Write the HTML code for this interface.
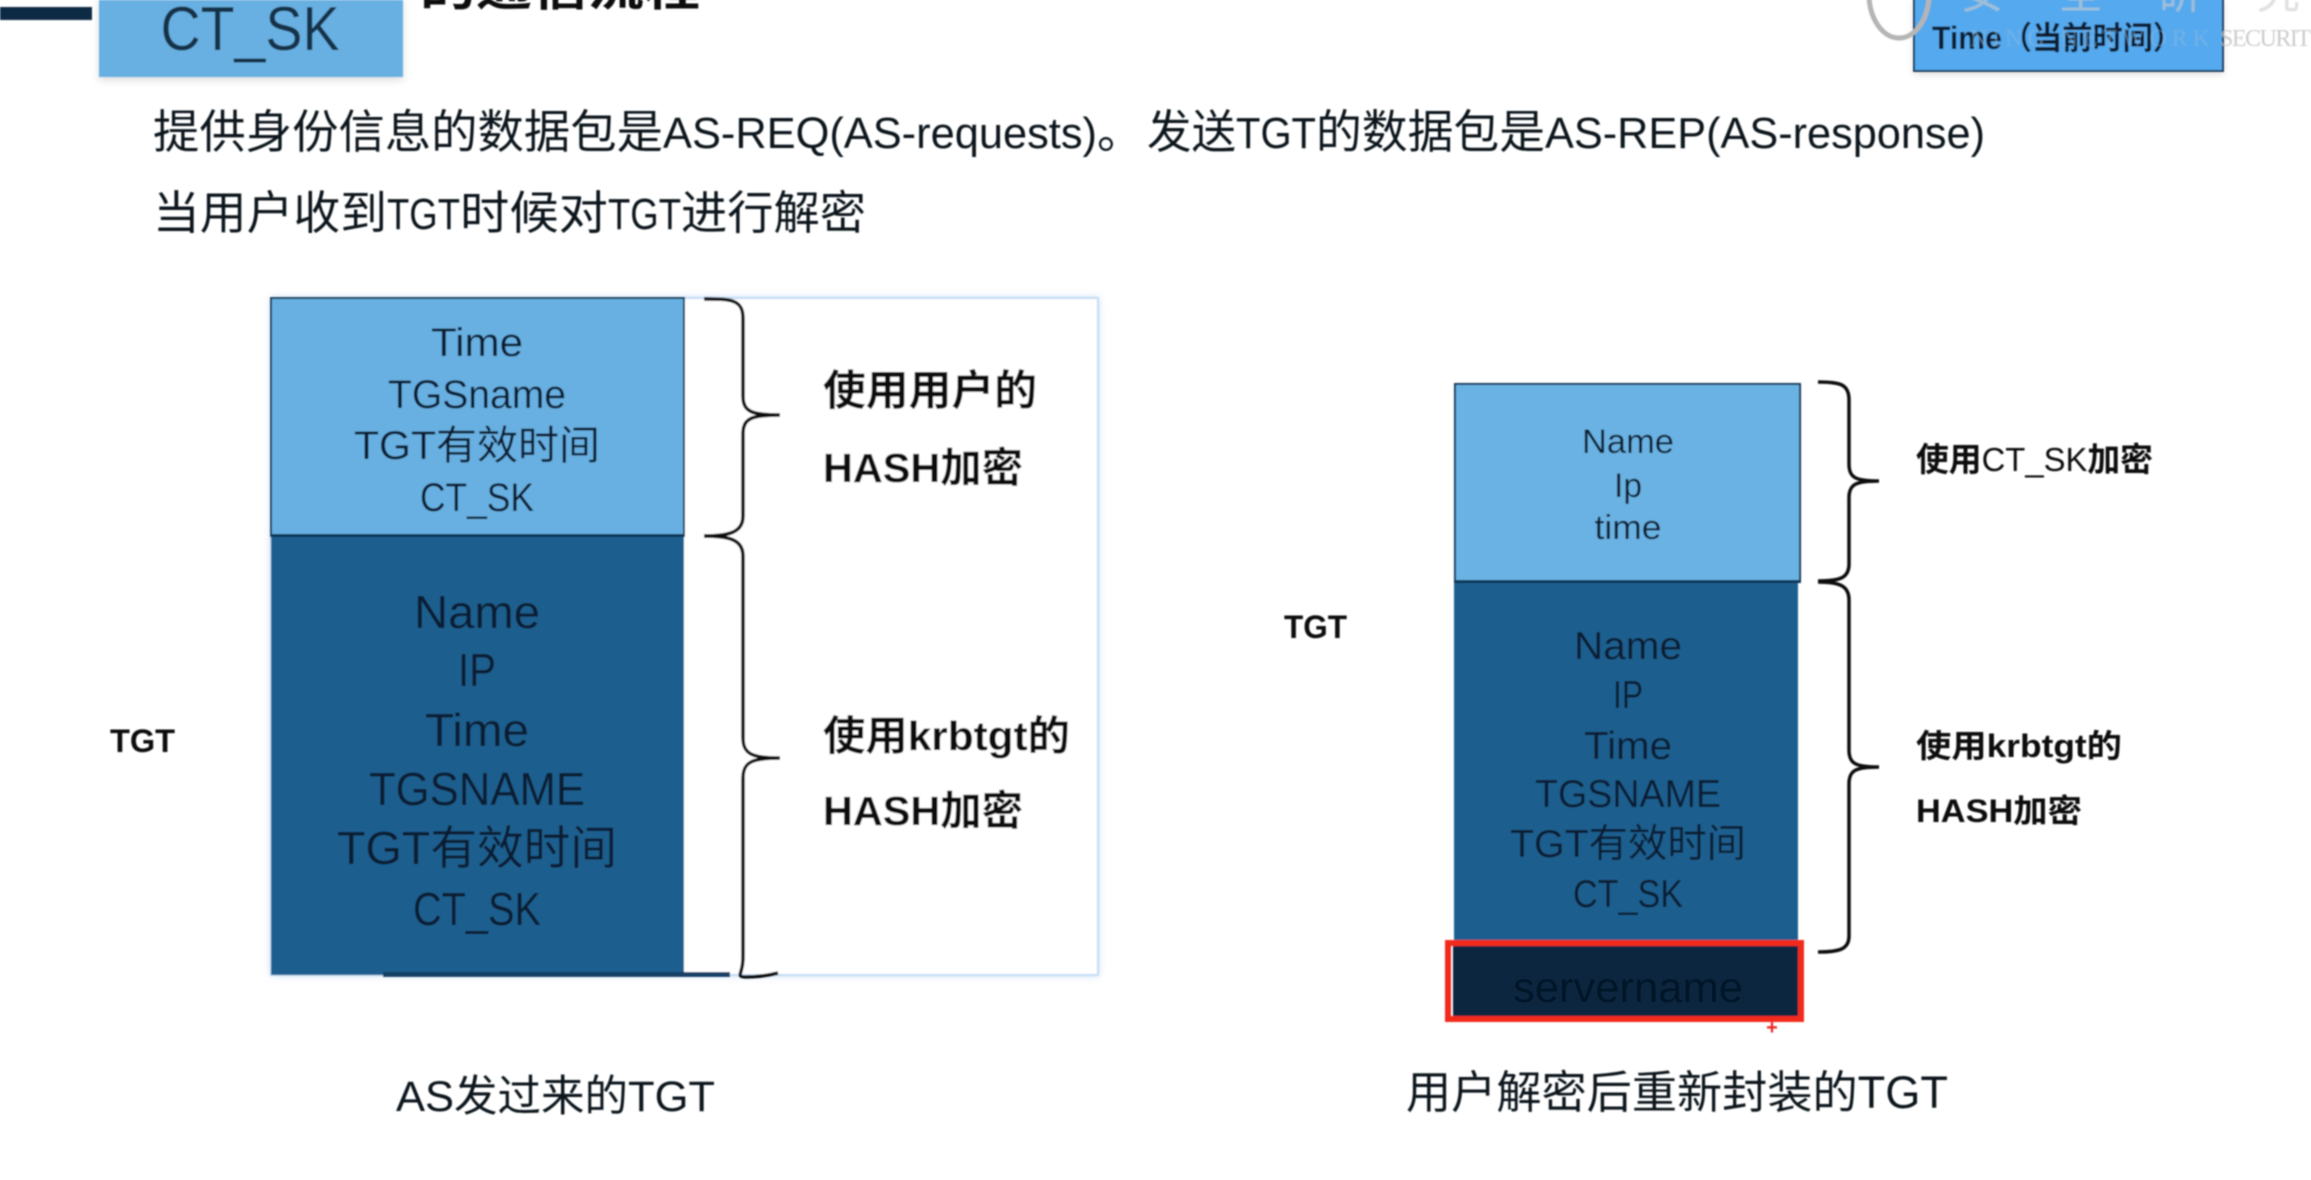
<!DOCTYPE html>
<html lang="zh"><head><meta charset="utf-8"><title>TGT</title>
<style>
html,body{margin:0;padding:0;background:#fff;width:2311px;height:1180px;overflow:hidden}
svg{display:block}
text{font-family:"Liberation Sans","Noto Sans CJK SC",sans-serif;fill:#10161e}
.c{text-anchor:middle}
.b{font-weight:700;fill:#111}
.d{fill:#081c30}
.br{fill:none;stroke:#111;stroke-width:3.5}
</style></head><body>
<svg width="2311" height="1180" viewBox="0 0 2311 1180" xmlns="http://www.w3.org/2000/svg">
<defs>
<filter id="s" x="-5%" y="-5%" width="110%" height="110%"><feGaussianBlur stdDeviation="0.7"/></filter>
<filter id="sh" x="-10%" y="-10%" width="120%" height="120%"><feGaussianBlur stdDeviation="4"/></filter>
</defs>
<g filter="url(#s)">
<!-- top strip -->
<rect x="0" y="7" width="92" height="13" fill="#0c2c44"/>
<rect x="99" y="0" width="304" height="80" fill="#999" opacity=".35" filter="url(#sh)"/>
<rect x="99" y="0" width="304" height="77" fill="#68b0e2"/>
<text class="c" x="250" y="50" font-size="62" textLength="179" lengthAdjust="spacingAndGlyphs" style="fill:#17324a">CT_SK</text>
<text x="420" y="5" font-size="48" font-weight="700" textLength="280" lengthAdjust="spacingAndGlyphs" style="fill:#111">的通信流程</text>

<!-- watermark + top-right box -->
<rect x="1914" y="2" width="309" height="72" fill="#999" opacity=".35" filter="url(#sh)"/>
<rect x="1914" y="-3" width="309" height="74" fill="#55a9ee" stroke="#173a5c" stroke-width="2"/>
<ellipse cx="1899" cy="-6" rx="30" ry="44" fill="none" stroke="#b5b5b5" stroke-width="5"/>
<text x="1932" y="49" font-size="32" font-weight="700" textLength="251" lengthAdjust="spacingAndGlyphs" style="fill:#0b1c30">Time（当前时间）</text>
<text x="2220" y="46" font-size="24" textLength="91" style="font-family:'Liberation Serif',serif;fill:#bbb" opacity=".75">SECURIT</text>
<text x="1970" y="46" font-size="24" textLength="240" style="font-family:'Liberation Serif',serif;fill:#8cb8de" opacity=".5">NING NETWORK</text>
<text x="1960" y="8" font-size="44" style="fill:#ccc" opacity=".6" textLength="340">安全研究</text>

<!-- body line 1 -->
<text x="153" y="148" font-size="46" textLength="510" lengthAdjust="spacingAndGlyphs">提供身份信息的数据包是</text>
<text x="663" y="148" font-size="44" textLength="434" lengthAdjust="spacingAndGlyphs">AS-REQ(AS-requests)</text>
<text x="1097" y="148" font-size="46">。</text>
<text x="1147" y="148" font-size="46" textLength="89" lengthAdjust="spacingAndGlyphs">发送</text>
<text x="1236" y="148" font-size="44" textLength="80" lengthAdjust="spacingAndGlyphs">TGT</text>
<text x="1316" y="148" font-size="46" textLength="229" lengthAdjust="spacingAndGlyphs">的数据包是</text>
<text x="1545" y="148" font-size="44" textLength="440" lengthAdjust="spacingAndGlyphs">AS-REP(AS-response)</text>
<!-- body line 2 -->
<text x="153" y="229" font-size="46" textLength="234" lengthAdjust="spacingAndGlyphs">当用户收到</text>
<text x="387" y="229" font-size="44" textLength="73" lengthAdjust="spacingAndGlyphs">TGT</text>
<text x="460" y="229" font-size="46" textLength="148" lengthAdjust="spacingAndGlyphs">时候对</text>
<text x="608" y="229" font-size="44" textLength="73" lengthAdjust="spacingAndGlyphs">TGT</text>
<text x="681" y="229" font-size="46" textLength="185" lengthAdjust="spacingAndGlyphs">进行解密</text>

<!-- left diagram -->
<rect x="271" y="298" width="827" height="677" fill="#9cc3ec" opacity=".7" filter="url(#sh)"/>
<rect x="271" y="298" width="827" height="677" fill="#fff" stroke="#c4dcf5" stroke-width="2"/>
<rect x="271" y="298" width="413" height="238" fill="#68b0e2" stroke="#123a5c" stroke-width="2"/>
<rect x="271" y="536" width="413" height="439" fill="#1a5e8e"/>
<rect x="271" y="534" width="413" height="3" fill="#0f3556"/>
<rect x="383" y="972" width="347" height="5" fill="#173f66"/>
<text class="c d" x="477" y="356" font-size="40" textLength="92" lengthAdjust="spacingAndGlyphs">Time</text>
<text class="c d" x="477" y="408" font-size="40" textLength="178" lengthAdjust="spacingAndGlyphs">TGSname</text>
<text class="c d" x="477" y="459" font-size="40" textLength="246" lengthAdjust="spacingAndGlyphs">TGT有效时间</text>
<text class="c d" x="477" y="511" font-size="40" textLength="114" lengthAdjust="spacingAndGlyphs">CT_SK</text>
<text class="c d" x="477" y="628" font-size="46" textLength="126" lengthAdjust="spacingAndGlyphs">Name</text>
<text class="c d" x="477" y="686" font-size="46" textLength="38" lengthAdjust="spacingAndGlyphs">IP</text>
<text class="c d" x="477" y="746" font-size="46" textLength="104" lengthAdjust="spacingAndGlyphs">Time</text>
<text class="c d" x="477" y="805" font-size="46" textLength="216" lengthAdjust="spacingAndGlyphs">TGSNAME</text>
<text class="c d" x="477" y="864" font-size="46" textLength="280" lengthAdjust="spacingAndGlyphs">TGT有效时间</text>
<text class="c d" x="477" y="925" font-size="46" textLength="128" lengthAdjust="spacingAndGlyphs">CT_SK</text>
<path class="br" d="M704 299 C730 299 743 299 743 318 L743 396 C743 412 752 415 780 415 C752 415 743 418 743 434 L743 516 C743 532 730 536 704 536"/>
<path class="br" d="M704 536 C730 536 743 540 743 556 L743 738 C743 754 752 758 780 758 C752 758 743 762 743 778 L743 958 C743 974 735 977 746 977 C760 977 770 975 778 973"/>
<text class="b" x="823" y="405" font-size="42" textLength="214" lengthAdjust="spacingAndGlyphs">使用用户的</text>
<text class="b" x="823" y="482" font-size="41" textLength="200" lengthAdjust="spacingAndGlyphs">HASH加密</text>
<text class="b" x="823" y="750" font-size="41" textLength="247" lengthAdjust="spacingAndGlyphs">使用krbtgt的</text>
<text class="b" x="823" y="825" font-size="41" textLength="200" lengthAdjust="spacingAndGlyphs">HASH加密</text>
<text x="110" y="752" font-size="32" textLength="65" lengthAdjust="spacingAndGlyphs" style="fill:#111;font-weight:700">TGT</text>
<text x="396" y="1111" font-size="43" textLength="319" lengthAdjust="spacingAndGlyphs">AS发过来的TGT</text>

<!-- right diagram -->
<rect x="1455" y="384" width="345" height="198" fill="#6ab2e3" stroke="#123a5c" stroke-width="2"/>
<rect x="1454" y="582" width="344" height="362" fill="#1a5e8e"/>
<rect x="1454" y="580" width="346" height="3" fill="#0f3556"/>
<rect x="1453" y="944" width="347" height="72" fill="#0a2640"/>
<rect x="1448" y="943" width="353" height="76" fill="none" stroke="#f1291c" stroke-width="6"/>
<text class="c" x="1772" y="1034" font-size="20" font-weight="700" style="fill:#e22">+</text>
<text class="c d" x="1628" y="453" font-size="34" textLength="92" lengthAdjust="spacingAndGlyphs">Name</text>
<text class="c d" x="1628" y="497" font-size="34" textLength="28" lengthAdjust="spacingAndGlyphs">Ip</text>
<text class="c d" x="1628" y="539" font-size="34" textLength="67" lengthAdjust="spacingAndGlyphs">time</text>
<text class="c d" x="1628" y="659" font-size="39" textLength="108" lengthAdjust="spacingAndGlyphs">Name</text>
<text class="c d" x="1628" y="708" font-size="39" textLength="30" lengthAdjust="spacingAndGlyphs">IP</text>
<text class="c d" x="1628" y="759" font-size="39" textLength="88" lengthAdjust="spacingAndGlyphs">Time</text>
<text class="c d" x="1628" y="807" font-size="39" textLength="186" lengthAdjust="spacingAndGlyphs">TGSNAME</text>
<text class="c d" x="1628" y="857" font-size="39" textLength="236" lengthAdjust="spacingAndGlyphs">TGT有效时间</text>
<text class="c d" x="1628" y="907" font-size="39" textLength="110" lengthAdjust="spacingAndGlyphs">CT_SK</text>
<text class="c" x="1628" y="1002" font-size="43" textLength="230" lengthAdjust="spacingAndGlyphs" style="fill:#061626">servername</text>
<path class="br" d="M1818 382 C1840 382 1849 384 1849 400 L1849 464 C1849 478 1856 481 1879 481 C1856 481 1849 484 1849 498 L1849 564 C1849 578 1840 581 1818 581"/>
<path class="br" d="M1818 582 C1840 582 1849 586 1849 600 L1849 750 C1849 764 1856 767 1879 767 C1856 767 1849 770 1849 784 L1849 936 C1849 949 1840 952 1818 952"/>
<text x="1916" y="471" font-size="33" textLength="237" lengthAdjust="spacingAndGlyphs" style="fill:#111"><tspan font-weight="700">使用</tspan>CT_SK<tspan font-weight="700">加密</tspan></text>
<text class="b" x="1916" y="757" font-size="32" textLength="206" lengthAdjust="spacingAndGlyphs">使用krbtgt的</text>
<text class="b" x="1916" y="822" font-size="32" textLength="166" lengthAdjust="spacingAndGlyphs">HASH加密</text>
<text x="1284" y="638" font-size="32" textLength="63" lengthAdjust="spacingAndGlyphs" style="fill:#111;font-weight:700">TGT</text>
<text x="1406" y="1108" font-size="45" textLength="542" lengthAdjust="spacingAndGlyphs">用户解密后重新封装的TGT</text>
</g>
</svg>
</body></html>
